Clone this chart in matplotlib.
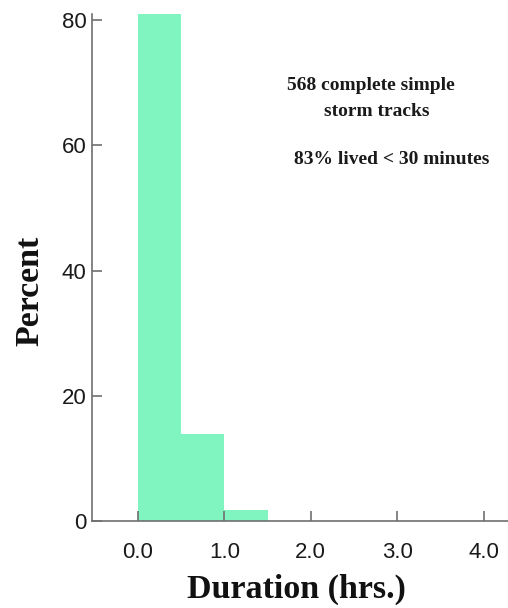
import numpy as np
import matplotlib.pyplot as plt

# histogram bins (hrs) and percent of storm tracks
bin_left = [0.0, 0.5, 1.0]
bin_width = 0.5
percent = [81.0, 13.9, 1.7]

x_ticks = [0.0, 1.0, 2.0, 3.0, 4.0]
x_labels = ["0.0", "1.0", "2.0", "3.0", "4.0"]
y_ticks = [0, 20, 40, 60, 80]

fig = plt.figure(figsize=(5.08, 6.08), dpi=100)
ax = fig.add_axes([92/508, 87/608, 416/508, 507/608])

ax.bar(bin_left, percent, width=bin_width, align="edge", color="#80f5c0", edgecolor="none")

ax.set_xlim(-0.53, 4.28)
ax.set_ylim(0, 81)
ax.set_xticks(x_ticks)
ax.set_xticklabels(x_labels)
ax.set_yticks(y_ticks)

for s in ["top", "right"]:
    ax.spines[s].set_visible(False)
for s in ["left", "bottom"]:
    ax.spines[s].set_color("#707070")
    ax.spines[s].set_linewidth(1.2)

ax.tick_params(direction="in", length=7, width=1.2, color="#707070",
               labelsize=16, labelcolor="#1a1a1a")
ax.tick_params(axis="x", pad=15)
ax.tick_params(axis="y", pad=4)
for lab in ax.get_xticklabels() + ax.get_yticklabels():
    lab.set_family("Liberation Sans")

# axis titles placed by hand (as in the original)
lab_style = dict(family="Liberation Serif", fontweight="bold", fontsize=24.5,
                 ha="center", va="center", color="#111111")
fig.text(296/508, 1 - 589/608, "Duration (hrs.)", **lab_style)
fig.text(30/508, 1 - 291/608, "Percent", rotation=90, **lab_style)

txt = dict(family="Liberation Serif", fontweight="bold", fontsize=14,
           ha="center", va="center", color="#1a1a1a")
fig.text(371/508, 1 - 86/608, "568 complete simple", **txt)
fig.text(377/508, 1 - 112/608, "storm tracks", **txt)
fig.text(392/508, 1 - 160/608, "83% lived < 30 minutes", **txt)

fig.savefig("out.png", dpi=100)
